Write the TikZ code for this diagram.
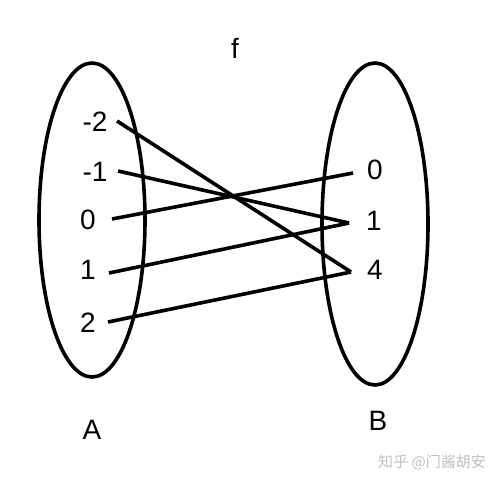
\documentclass[tikz,border=0pt]{standalone}
\usepackage{fontspec}
\setmainfont{Liberation Sans}
\newfontfamily\cjk{Noto Sans CJK SC}
\usepackage{tikz}
\usetikzlibrary{positioning}
\tikzset{setline/.style={line width=3.6pt},
    elt/.style={inner sep=0.75pt,font=\fontsize{28}{32}\selectfont}}

\begin{document}
\begin{tikzpicture}[x=1pt,y=1pt,yscale=-1,xscale=1]
\useasboundingbox (0,0) rectangle (502,485);

%Shape: Ellipse A
\draw [setline] (92,220) ellipse (53 and 157);
%Shape: Ellipse B
\draw [setline] (375,224) ellipse (53 and 161);

% Text Node
\node [elt] (fname) at (235,48) {f};
\node [elt] (aname) at (92,430) {A};
\node [elt] (bname) at (378,421) {B};
% Text Node
\node [elt] (am2) at (95,122) {-2};
\node [elt] (am1) at (95,172) {-1};
\node [elt] (a0) at (88,220) {0};
\node [elt] (a1) at (88,270) {1};
\node [elt] (a2) at (88,323) {2};
% Text Node
\node [elt] (b0) at (375,170) {0};
\node [elt] (b1) at (374,221) {1};
\node [elt] (b4) at (375,270) {4};

%Line ends
\coordinate (pm2) at (117,121);
\coordinate (pm1) at (118,171);
\coordinate (p0) at (112,219);
\coordinate (p1) at (109,273);
\coordinate (p2) at (108,322);
\coordinate (q0) at (353,173);
\coordinate (q1) at (349,223);
\coordinate (q4) at (351,272);

%Straight Lines
\draw [setline] (pm2) -- (q4);
\draw [setline] (pm1) -- (q1);
\draw [setline] (p0) -- (q0);
\draw [setline] (p1) -- (q1);
\draw [setline] (p2) -- (q4);

% Text Node
\node [inner sep=0pt,text=black!25,font=\cjk\fontsize{15}{18}\selectfont] (mark) at (432,462) {知乎 @门酱胡安};

\end{tikzpicture}
\end{document}
